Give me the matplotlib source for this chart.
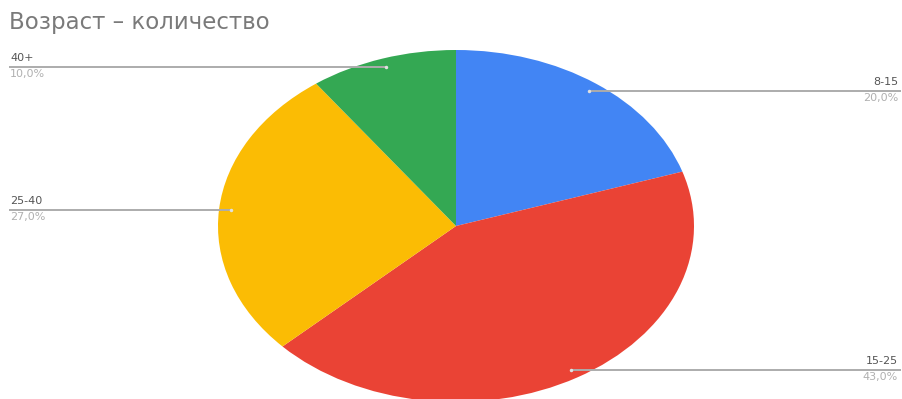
import numpy as np
import matplotlib
matplotlib.use("Agg")
import matplotlib.pyplot as plt

plt.rcParams["font.family"] = ["DejaVu Sans"]

# Age groups and their counts (share, %)
groups = ["8-15", "15-25", "25-40", "40+"]
shares = [20.0, 43.0, 27.0, 10.0]
colors = ["#4285F4", "#EA4335", "#FBBC04", "#34A853"]
# which side of the chart each label sits on
sides = ["right", "right", "left", "left"]

W, H = 903, 399
fig = plt.figure(figsize=(W / 100, H / 100), dpi=100)

# overlay in pixel coordinates for the title, labels and leader lines
ov = fig.add_axes([0, 0, 1, 1])
ov.set_xlim(0, W)
ov.set_ylim(H, 0)
ov.axis("off")

# the pie is stretched horizontally into an ellipse; its bottom runs off the canvas
cx, cy, rx, ry = 456, 226, 238, 176
pie_ax = fig.add_axes([(cx - rx) / W, 1 - (cy + ry) / H, 2 * rx / W, 2 * ry / H])
pie_ax.pie(shares, colors=colors, startangle=90, counterclock=False,
           wedgeprops=dict(linewidth=0))
pie_ax.set_aspect("auto")
pie_ax.set_xlim(-1, 1)
pie_ax.set_ylim(-1, 1)
pie_ax.axis("off")
pie_ax.set_zorder(0)
ov.set_zorder(1)

ov.text(9, 22, "Возраст – количество", fontsize=16.5, color="#7a7a7a",
        va="center", ha="left")

to_ov = ov.transData.inverted()
start = 90.0
for name, val, side in zip(groups, shares, sides):
    span = 360 * val / 100
    mid = np.deg2rad(start - span / 2)
    start -= span
    r = 0.95
    px, py = to_ov.transform(pie_ax.transData.transform((r * np.cos(mid), r * np.sin(mid))))
    if side == "right":
        x_end, ha, tx = 901, "right", 898
    else:
        x_end, ha, tx = 9, "left", 10
    ov.plot([px, x_end], [py, py], color="#acacac", lw=1.4, solid_capstyle="butt")
    ov.plot([px], [py], "o", ms=2.5, color="#e0e0e0", mec="none")
    ov.text(tx, py - 4, name, fontsize=8, color="#555555", ha=ha, va="bottom")
    ov.text(tx, py + 2, f"{val:.1f}%".replace(".", ","), fontsize=8,
            color="#b0b0b0", ha=ha, va="top")

fig.savefig("out.png", dpi=100)
